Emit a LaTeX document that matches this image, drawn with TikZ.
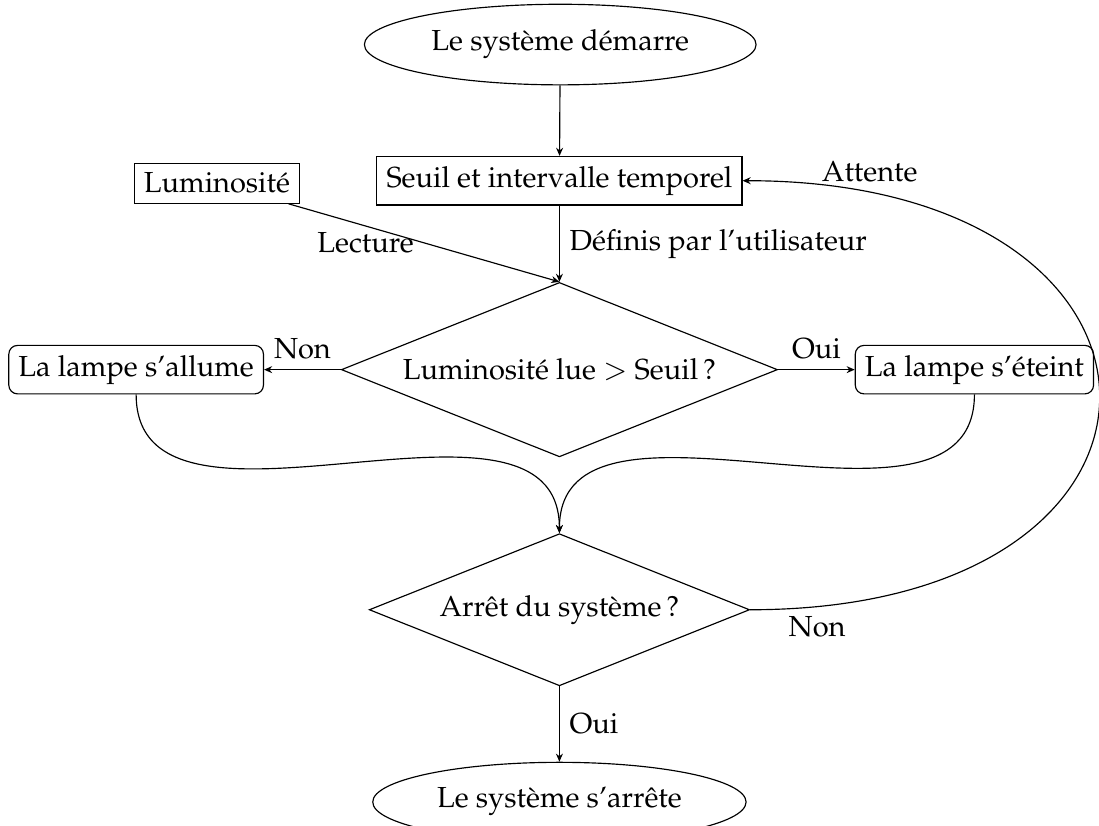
\documentclass[tikz,border=0pt]{standalone}
\usepackage[T1]{fontenc}
\usepackage{mathpazo}
\usetikzlibrary{shapes.geometric,arrows.meta}

\begin{document}
\begin{tikzpicture}[
        >={Stealth[length=2.8pt,width=2.4pt]},
        debut/.style={ellipse,draw,inner ysep=4.8pt},
        boite/.style={rectangle,draw},
        lampe/.style={rectangle,draw,rounded corners=3pt},
        test/.style={diamond,draw,aspect=2.5},
    ]
    \useasboundingbox (0,0) rectangle (13.32,-10.01);
    \node[debut] (demarre) at (6.79,-0.54) {Le système démarre};
    \node[boite] (seuil) at (6.78,-2.19) {Seuil et intervalle temporel}
                edge [<-] (demarre);
    \node[boite] (lum) at (2.63,-2.22) {Luminosité};
    \node[test] (test1) at (6.78,-4.48) {Luminosité lue $>$ Seuil\,?}
                edge [<-] node[right,midway] {Définis par l'utilisateur} (seuil);
    \draw[->] (lum) -- node[left,midway] {Lecture} (test1.north);
    \node[lampe] (allume) at (1.65,-4.48) {La lampe s'allume}
                edge [<-] node[above,midway] {Non} (test1);
    \node[lampe] (eteint) at (11.81,-4.48) {La lampe s'éteint}
                edge [<-] node[above,midway] {Oui} (test1);
    \node[test] (test2) at (6.78,-7.39) {Arrêt du système\,?}
                edge [<-,out=90,in=-90] (allume.south)
                edge [<-,out=90,in=-90] (eteint.south)
                edge [->,out=0,in=0,looseness=2.8] node[below,pos=0.05] {Non} node[above,pos=0.9] {Attente} (seuil);
    \node[debut] (arrete) at (6.78,-9.72) {Le système s'arrête}
                edge [<-] node[right,midway] {Oui} (test2);
\end{tikzpicture}
\end{document}
